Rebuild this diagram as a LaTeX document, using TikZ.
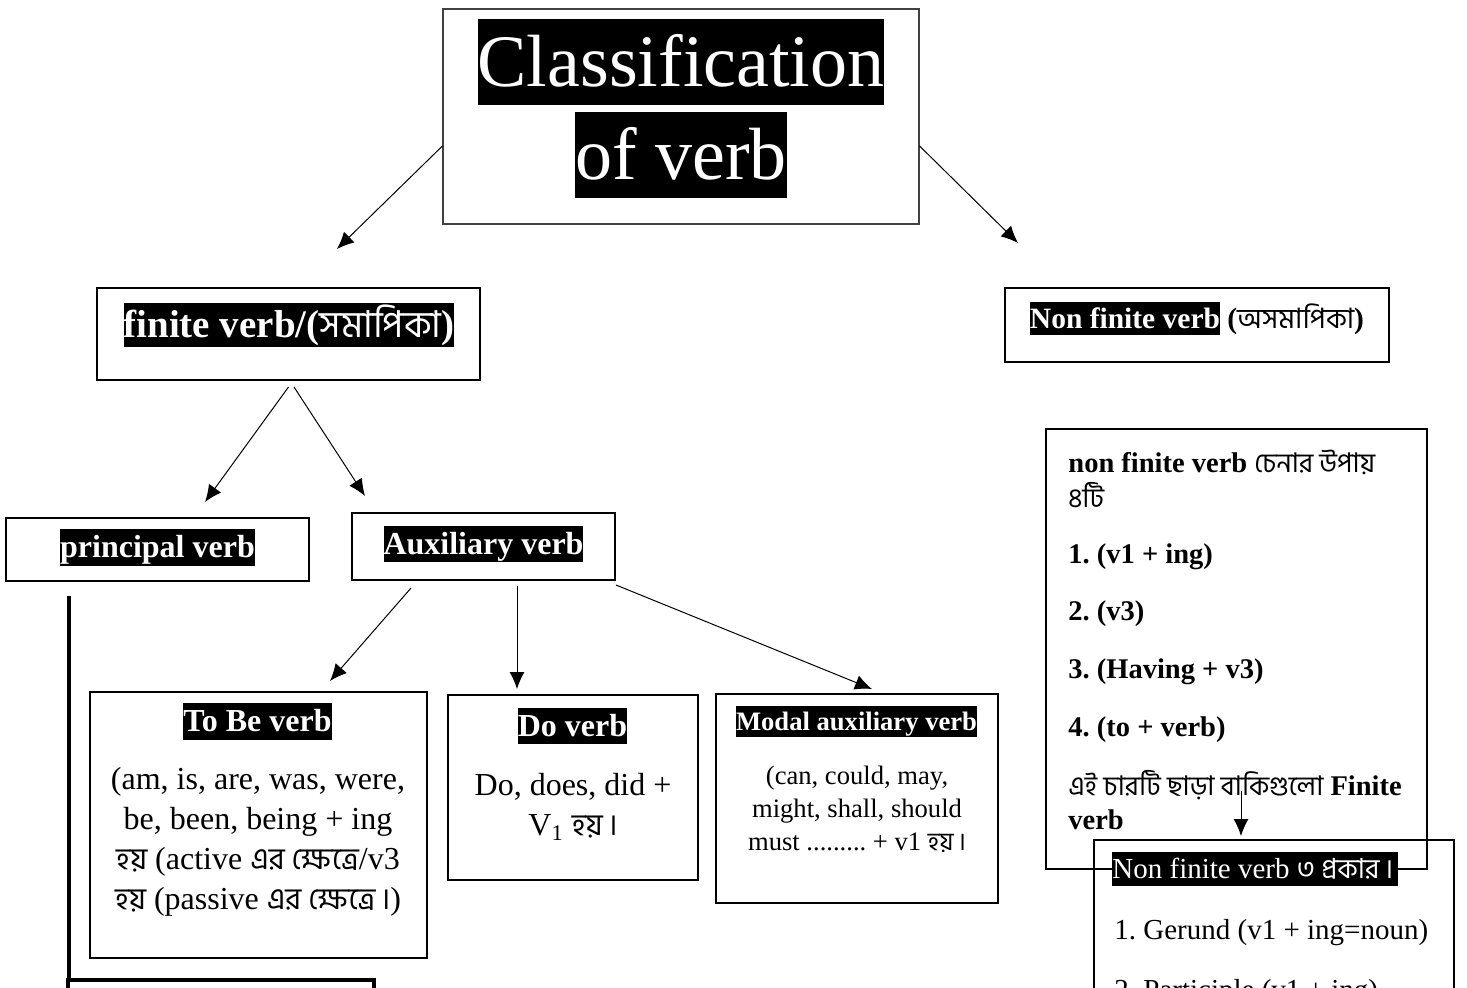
\documentclass[tikz,border=0pt]{standalone}
\usepackage{fontspec}
\setmainfont{Liberation Serif}
\newfontfamily\bnfont[Script=Bengali,Scale=0.95]{Hind Siliguri}
\usetikzlibrary{arrows.meta,calc}
\frenchspacing
\newcommand{\bng}[1]{{\bnfont\mdseries #1}}
\newcommand{\dnd}{\,\bng{।}}
\newcommand{\hl}[1]{{\setlength{\fboxsep}{0pt}\colorbox{black}{\color{white}\vrule height 0.9em depth 0.25em width 0pt #1}}}
\tikzset{
  boxnode/.style={draw, line width=1pt, rectangle, inner sep=0pt},
  txt/.style={inner sep=0pt, align=center},
  ltxt/.style={inner sep=0pt, anchor=west, align=left},
  arr/.style={line width=0.5pt, -{Latex[length=8.5pt,width=7.5pt]}},
}
\begin{document}
\begin{tikzpicture}[x=0.5pt,y=-0.5pt]
\path[use as bounding box, clip] (0,0) rectangle (1467,987);
\fill[white] (0,0) rectangle (1467,987);

% boxes
\node[boxnode, draw=black!75, line width=0.6pt, minimum width=238pt, minimum height=107.5pt] (title) at (681,116.5) {};
\node[boxnode, minimum width=191.5pt, minimum height=46pt] (finite) at (288.5,334) {};
\node[boxnode, minimum width=151.5pt, minimum height=31.5pt] (principal) at (157.5,549.5) {};
\node[boxnode, minimum width=131.5pt, minimum height=33.5pt] (aux) at (483.5,546.5) {};
\node[boxnode, minimum width=168.5pt, minimum height=133pt] (tobe) at (258.5,825) {};
\node[boxnode, minimum width=125pt, minimum height=92.5pt] (do) at (573,787.5) {};
\node[boxnode, minimum width=141pt, minimum height=104.5pt] (modal) at (857,798.5) {};
\node[boxnode, minimum width=192pt, minimum height=37pt] (nonfinite) at (1197,325) {};
\node[boxnode, minimum width=190.5pt, minimum height=220pt] (rules) at (1236.5,649) {};
\node[boxnode, minimum width=180pt, minimum height=130pt] (lower) at (1274,970) {};
\node[boxnode, line width=2pt, minimum width=153pt, minimum height=50pt] (bottombox) at (221,1030) {};

% texts
\node[txt, font=\fontsize{37}{46.5}\selectfont] (titletxt) at (681,108.5) {\hl{Classification}\\\hl{of verb}};
\node[txt, font=\fontsize{19.5}{24}\selectfont\bfseries] (finitetxt) at (289,325) {\hl{finite verb/(\bng{সমাপিকা})}};
\node[txt, font=\fontsize{16}{20}\selectfont\bfseries] (principaltxt) at (157.5,547.5) {\hl{principal verb}};
\node[txt, font=\fontsize{16}{20}\selectfont\bfseries] (auxtxt) at (483.5,544) {\hl{Auxiliary verb}};

\node[txt, font=\fontsize{16}{20}\selectfont\bfseries] (tobehead) at (257.5,721.5) {\hl{To Be verb}};
\node[txt, font=\fontsize{16}{20}\selectfont] (tobebody) at (258,842) {(am, is, are, was, were,\\be, been, being + ing\\\bng{হয়} (active \bng{এর ক্ষেত্রে}/v3\\\bng{হয়} (passive \bng{এর ক্ষেত্রে}\dnd)};

\node[txt, font=\fontsize{16}{20}\selectfont\bfseries] (dohead) at (572.5,726) {\hl{Do verb}};
\node[txt, font=\fontsize{16}{20}\selectfont] (dobody) at (573,807) {Do, does, did +\\V\textsubscript{1} \bng{হয়}\dnd};

\node[txt, font=\fontsize{13.3}{16.5}\selectfont\bfseries] (modalhead) at (856.5,721.5) {\hl{Modal auxiliary verb}};
\node[txt, font=\fontsize{13.3}{16.5}\selectfont] (modalbody) at (857,809) {(can, could, may,\\might, shall, should\\must ......... + v1 \bng{হয়}\dnd};

\node[txt, font=\fontsize{14.75}{18}\selectfont\bfseries] (nonfinitetxt) at (1197,318.5) {\hl{Non finite verb} (\bng{অসমাপিকা})};

\node[ltxt, font=\fontsize{14.25}{17}\selectfont\bfseries] (r1) at (1068,462) {non finite verb \bng{চেনার উপায়}};
\node[ltxt, font=\fontsize{14.25}{17}\selectfont] (r2) at (1068,495) {\bng{৪টি}};
\node[ltxt, font=\fontsize{14.25}{17}\selectfont\bfseries] (r3) at (1068,557) {1. (v1 + ing)};
\node[ltxt, font=\fontsize{14.25}{17}\selectfont\bfseries] (r4) at (1068,614) {2. (v3)};
\node[ltxt, font=\fontsize{14.25}{17}\selectfont\bfseries] (r5) at (1068,672) {3. (Having + v3)};
\node[ltxt, font=\fontsize{14.25}{17}\selectfont\bfseries] (r6) at (1068,730) {4. (to + verb)};
\node[ltxt, font=\fontsize{14.25}{17}\selectfont\bfseries] (r7) at (1068,785) {\bng{এই চারটি ছাড়া বাকিগুলো} Finite};
\node[ltxt, font=\fontsize{14.25}{17}\selectfont\bfseries] (r8) at (1068,820) {verb};

\node[ltxt, font=\fontsize{14.5}{18}\selectfont] (lowerhead) at (1112,869) {\hl{Non finite verb \bng{৩ প্রকার}\dnd\,}};
\node[ltxt, font=\fontsize{14.5}{18}\selectfont] (l1) at (1114,933) {1. Gerund (v1 + ing=noun)};
\node[inner sep=0pt, anchor=base west, font=\fontsize{14.5}{18}\selectfont] (l2) at (1114,999) {2. Participle (v1 + ing)};

% connectors
\draw[arr] ($(title.west)+(0,29.5)$) -- ($(finite.north)+(48.5,-38)$);
\draw[arr] ($(title.east)+(0,29.5)$) -- ($(nonfinite.north)+(-179,-44)$);
\draw[arr] ($(finite.south)+(0,6)$) -- ($(principal.north)+(47.5,-15)$);
\draw[arr] ($(finite.south)+(5.5,6)$) -- ($(aux.north)+(-118.5,-16)$);
\draw[arr] ($(aux.south)+(-72.5,7)$) -- ($(tobe.north)+(71.5,-10)$);
\draw[arr] ($(aux.south)+(33.5,5)$) -- ($(do.north)+(-56,-5)$);
\draw[arr] ($(aux.south east)+(0,4)$) -- ($(modal.north)+(15,-4)$);
\draw[arr] ($(rules.south)+(4.5,-79)$) -- ($(lower.north)+(-33,-3)$);
\coordinate (pl) at ($(principal.south west)+(64,14)$);
\draw[line width=2pt] (pl) -- (pl |- bottombox.north);
\end{tikzpicture}
\end{document}
